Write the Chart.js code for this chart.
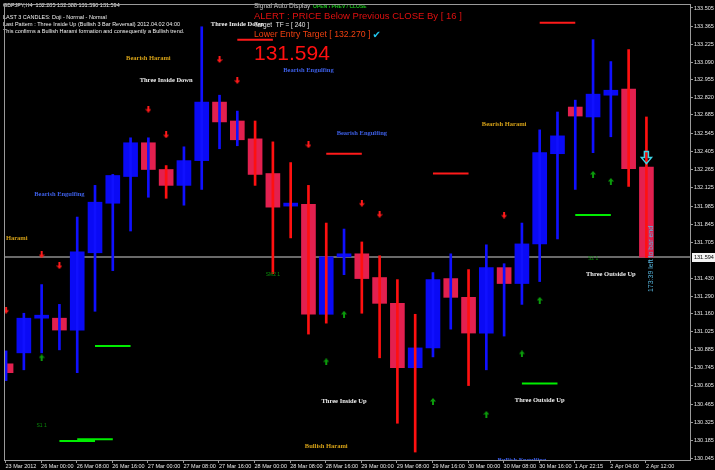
<!DOCTYPE html>
<html>
<head>
<meta charset="utf-8">
<script src="https://cdn.jsdelivr.net/npm/chart.js@4.4.1/dist/chart.umd.min.js"></script>
<style>
  html, body { margin: 0; padding: 0; background: #000; }
  canvas { display: block; }
</style>
</head>
<body>
<canvas id="chart" width="715" height="470"></canvas>
<script>
// GBPJPY H4, 23 Mar 2012 -> 2 Apr 2012 (one entry per candle)
const opens  = [130.775, 130.859, 131.125, 131.125, 131.034, 131.627, 132.007, 132.212, 132.471, 132.266,
                132.144, 132.334, 132.783, 132.638, 132.501, 132.235, 131.985, 131.999, 131.155, 131.596,
                131.619, 131.437, 131.239, 130.745, 130.897, 131.429, 131.285, 131.011, 131.513, 131.391,
                131.695, 132.387, 132.745, 132.669, 132.836, 132.882, 132.285];
const highs  = [130.874, 131.163, 131.383, 131.231, 131.901, 132.144, 132.228, 132.509, 132.509, 132.296,
                132.440, 133.361, 132.836, 132.714, 132.638, 132.478, 132.319, 132.144, 131.855, 131.809,
                131.710, 131.604, 131.421, 131.155, 131.475, 131.619, 131.498, 131.688, 131.543, 131.855,
                132.570, 132.707, 132.798, 133.262, 133.094, 133.186, 132.669];
const lows   = [130.646, 130.729, 130.859, 130.882, 130.707, 131.178, 131.490, 131.794, 132.053, 132.045,
                131.992, 132.113, 132.425, 132.448, 132.144, 131.467, 131.741, 131.003, 131.087, 131.459,
                131.163, 130.821, 130.319, 130.098, 130.828, 131.041, 130.608, 130.729, 130.988, 131.231,
                131.406, 131.733, 132.113, 132.395, 132.517, 132.136, 131.590];
const closes = [130.707, 131.125, 131.130, 131.034, 131.634, 132.015, 132.220, 132.471, 132.266, 132.144,
                132.334, 132.783, 132.631, 132.494, 132.228, 131.977, 131.992, 131.155, 131.596, 131.612,
                131.429, 131.239, 130.745, 130.897, 131.421, 131.285, 131.011, 131.513, 131.391, 131.695,
                132.395, 132.524, 132.676, 132.844, 132.874, 132.273, 131.594];

// one label every second bar
const xTickLabels = ["23 Mar 2012", "26 Mar 00:00", "26 Mar 08:00", "26 Mar 16:00", "27 Mar 00:00",
  "27 Mar 08:00", "27 Mar 16:00", "28 Mar 00:00", "28 Mar 08:00", "28 Mar 16:00", "29 Mar 00:00",
  "29 Mar 08:00", "29 Mar 16:00", "30 Mar 00:00", "30 Mar 08:00", "30 Mar 16:00", "1 Apr 22:15",
  "2 Apr 04:00", "2 Apr 12:00"];
const yTickValues = [133.505, 133.365, 133.225, 133.090, 132.955, 132.820, 132.685, 132.545, 132.405,
  132.265, 132.125, 131.985, 131.845, 131.705, 131.430, 131.290, 131.160, 131.025, 130.885, 130.745,
  130.605, 130.465, 130.325, 130.185, 130.045];

// signal arrows
const sellBars   = [0, 2, 3, 8, 9, 12, 13, 17, 20, 21, 28];
const sellPrices = [131.186, 131.612, 131.528, 132.729, 132.532, 133.110, 132.950, 132.456, 132.007, 131.923, 131.916];
const buyBars    = [2, 18, 19, 24, 27, 29, 30, 33, 34];
const buyPrices  = [130.821, 130.790, 131.155, 130.486, 130.387, 130.851, 131.262, 132.228, 132.174];

// short level lines, two bars long each
const resistBars   = [13, 18, 24, 30];
const resistLevels = [133.262, 132.387, 132.235, 133.391];
const supportBars   = [3, 4, 5, 29, 32];
const supportLevels = [130.182, 130.197, 130.912, 130.623, 131.916];

// pattern names written on the chart
const patternNames  = ["Harami", "Bearish Engulfing", "Bearish Harami", "Three Inside Down", "Three Inside Down",
  "Bearish Engulfing", "Bullish Harami", "Three Inside Up", "Bearish Engulfing", "Bearish Harami",
  "Bullish Engulfing", "Three Outside Up", "Three Outside Up"];
const patternBars   = [0.6, 3, 8, 9, 13, 17, 18, 19, 20, 28, 29, 30, 34];
const patternPrices = [131.741, 132.075, 133.117, 132.950, 133.376, 133.026, 130.144, 130.486, 132.547,
  132.615, 130.037, 130.494, 131.459];

const zoneNames  = ["S1 1", "SM2 1", "S2 1"];
const zoneBars   = [2, 15, 33];
const zonePrices = [130.304, 131.459, 131.581];

const entryArrowBar = 36;
const entryArrowPrice = 132.357;

// wick colour per candle (B = blue, R = red)
const wickTone = "BBBBBBBBBRBBBBRRRRRBRRRRBBRBBBBBBBBRR";

const BULL = "#0a0af5";
const BEAR = "#e3204f";
const WICK_B = "#1010ff";
const WICK_R = "#ff1010";
const FRAME = "#9a9a9a";
const last = closes[closes.length - 1];

function arrowImage(color, down) {
  const c = document.createElement("canvas");
  c.width = 6; c.height = 7;
  const g = c.getContext("2d");
  if (down) { g.translate(0, 7); g.scale(1, -1); }
  g.fillStyle = color;
  g.beginPath();
  g.moveTo(3, 0); g.lineTo(6, 3.5); g.lineTo(4, 3.5); g.lineTo(4, 7);
  g.lineTo(2, 7); g.lineTo(2, 3.5); g.lineTo(0, 3.5);
  g.closePath();
  g.fill();
  return c;
}

const bodyData = opens.map((o, i) => ({x: i, y: [o, closes[i]]}));
const wickData = highs.map((h, i) => ({x: i, y: [lows[i], h]}));

const levelSets = [];
resistBars.forEach((b, k) => levelSets.push({
  type: "line", data: [{x: b, y: resistLevels[k]}, {x: b + 2, y: resistLevels[k]}],
  borderColor: "#ff1a1a", borderWidth: 2, pointRadius: 0, order: 3,
}));
supportBars.forEach((b, k) => levelSets.push({
  type: "line", data: [{x: b, y: supportLevels[k]}, {x: b + 2, y: supportLevels[k]}],
  borderColor: "#00ee00", borderWidth: 2, pointRadius: 0, order: 3,
}));

const overlay = {
  id: "overlay",
  beforeDraw(chart) {
    const {ctx} = chart;
    ctx.save();
    ctx.fillStyle = "#000";
    ctx.fillRect(0, 0, chart.width, chart.height);
    ctx.restore();
  },
  afterDatasetsDraw(chart) {
    const {ctx, chartArea: a, scales: {x, y}} = chart;
    ctx.save();
    ctx.beginPath();
    ctx.rect(a.left, a.top, a.right - a.left, a.bottom - a.top);
    ctx.clip();

    // pattern names
    ctx.textAlign = "center";
    ctx.textBaseline = "middle";
    ctx.font = "bold 6.5px 'Liberation Serif'";
    patternNames.forEach((name, k) => {
      ctx.fillStyle = name.includes("Harami") ? "#d4a017"
        : name.includes("Engulfing") ? "#3d5fe6" : "#eeeeee";
      ctx.fillText(name, x.getPixelForValue(patternBars[k]), y.getPixelForValue(patternPrices[k]));
    });

    ctx.font = "5px 'Liberation Sans'";
    ctx.fillStyle = "#0a8a0a";
    zoneNames.forEach((name, k) => {
      ctx.fillText(name, x.getPixelForValue(zoneBars[k]), y.getPixelForValue(zonePrices[k]));
    });

    // hollow entry arrow over the live bar
    const ax = x.getPixelForValue(entryArrowBar);
    const ay = y.getPixelForValue(entryArrowPrice);
    ctx.strokeStyle = "#3fd6e8";
    ctx.lineWidth = 1.5;
    ctx.beginPath();
    ctx.moveTo(ax - 2, ay - 6); ctx.lineTo(ax + 2, ay - 6); ctx.lineTo(ax + 2, ay);
    ctx.lineTo(ax + 5, ay); ctx.lineTo(ax, ay + 6); ctx.lineTo(ax - 5, ay);
    ctx.lineTo(ax - 2, ay); ctx.closePath();
    ctx.stroke();

    // bar countdown, written upwards
    ctx.translate(x.getPixelForValue(entryArrowBar) + 5, y.getPixelForValue(last) - 1);
    ctx.rotate(-Math.PI / 2);
    ctx.textAlign = "left";
    ctx.font = "7px 'Liberation Sans'";
    ctx.fillStyle = "#56b4dc";
    ctx.fillText("173:39 left to bar end", -36, 0);
    ctx.restore();

    // screen labels
    ctx.save();
    ctx.textAlign = "left";
    ctx.textBaseline = "middle";
    ctx.fillStyle = "#f0f0f0";
    ctx.font = "5.5px 'Liberation Sans'";
    ctx.fillText("GBPJPY,H4  132.285 132.388 131.590 131.594", 3, 5);
    ctx.fillText("LAST 3 CANDLES: Doji - Normal - Normal", 3, 17);
    ctx.fillText("Last Pattern : Three Inside Up (Bullish 3 Bar Reversal) 2012.04.02 04:00", 3, 24);
    ctx.fillText("This confirms a Bullish Harami formation and consequently a Bullish trend.", 3, 31);

    ctx.fillStyle = "#c8c8c8";
    ctx.font = "6.5px 'Liberation Sans'";
    ctx.fillText("Signal Auto Display", 254, 6);
    ctx.fillStyle = "#1ec81e";
    ctx.font = "bold 5px 'Liberation Sans'";
    ctx.fillText("OPEN \u203a PREV / CLOSE", 313, 7);
    ctx.fillStyle = "#e01010";
    ctx.font = "9.5px 'Liberation Sans'";
    ctx.fillText("ALERT : PRICE Below Previous CLOSE By [ 16 ]", 254, 16);
    ctx.fillStyle = "#e8e8e8";
    ctx.font = "6.5px 'Liberation Sans'";
    ctx.fillText("Target  TF = [ 240 ]", 254, 25);
    ctx.fillStyle = "#f04010";
    ctx.font = "8.7px 'Liberation Sans'";
    const entryText = "Lower Entry Target [ 132.270 ]";
    ctx.fillText(entryText, 254, 35);
    const tickX = 254 + ctx.measureText(entryText).width + 2;
    ctx.fillStyle = "#20c8f0";
    ctx.font = "bold 10px 'DejaVu Sans'";
    ctx.fillText("\u2714", tickX, 35);
    ctx.fillStyle = "#ff1010";
    ctx.font = "21px 'Liberation Sans'";
    ctx.textBaseline = "alphabetic";
    ctx.fillText(last.toFixed(3), 254, 60);
    ctx.restore();
  },
  afterDraw(chart) {
    const {ctx, chartArea: a, scales: {y}} = chart;
    ctx.save();
    ctx.strokeStyle = FRAME;
    ctx.lineWidth = 1;
    ctx.strokeRect(a.left - 0.5, a.top - 0.5, a.right - a.left + 1, a.bottom - a.top + 1);
    // bid price box on the price axis
    const py = Math.round(y.getPixelForValue(last));
    ctx.fillStyle = "#f4f4f4";
    ctx.fillRect(a.right + 2, py - 4, 23, 9);
    ctx.fillStyle = "#000";
    ctx.font = "5.5px 'Liberation Sans'";
    ctx.textBaseline = "middle";
    ctx.fillText(last.toFixed(3), a.right + 4, py + 0.5);
    ctx.restore();
  },
};

new Chart(document.getElementById("chart"), {
  type: "bar",
  data: {
    datasets: [
      {
        type: "bar", data: wickData, order: 1, grouped: false, barThickness: 2,
        backgroundColor: wickData.map((_, i) => (wickTone[i] === "B" ? WICK_B : WICK_R)),
      },
      {
        type: "bar", data: bodyData, order: 2, grouped: false, barThickness: 14, minBarLength: 3,
        backgroundColor: bodyData.map((_, i) => (closes[i] >= opens[i] ? BULL : BEAR)),
      },
      ...levelSets,
      {
        type: "line", data: [{x: -1, y: last}, {x: 40, y: last}], order: 4,
        borderColor: "#8c8c8c", borderWidth: 1.5, pointRadius: 0,
      },
      {
        type: "scatter", order: 0, pointStyle: arrowImage("#ff1a1a", true),
        data: sellBars.map((b, k) => ({x: b, y: sellPrices[k]})),
      },
      {
        type: "scatter", order: 0, pointStyle: arrowImage("#0b9a0b", false),
        data: buyBars.map((b, k) => ({x: b, y: buyPrices[k]})),
      },
    ],
  },
  options: {
    responsive: false,
    animation: false,
    devicePixelRatio: 1,
    layout: {padding: {left: 1, top: 1, right: 0, bottom: 0}},
    plugins: {legend: {display: false}, tooltip: {enabled: false}},
    scales: {
      x: {
        type: "linear", min: -0.06, max: 38.45, offset: false,
        grid: {drawOnChartArea: false, tickLength: 3, color: FRAME, offset: false},
        border: {color: FRAME},
        ticks: {
          autoSkip: false, maxRotation: 0, align: "start", padding: 0, color: "#e6e6e6",
          font: {family: "Liberation Sans", size: 5.5},
          callback: (v, i) => xTickLabels[i],
        },
        afterBuildTicks: s => { s.ticks = xTickLabels.map((_, k) => ({value: 2 * k - 0.03})); },
        afterFit: s => { s.height = 10; },
      },
      y: {
        type: "linear", position: "right", min: 130.037, max: 133.528,
        grid: {drawOnChartArea: false, tickLength: 3, color: FRAME},
        border: {color: FRAME},
        ticks: {
          autoSkip: false, padding: 1, color: "#e6e6e6",
          font: {family: "Liberation Sans", size: 5.5},
          callback: v => v.toFixed(3),
        },
        afterBuildTicks: s => { s.ticks = yTickValues.map(v => ({value: v})); },
        afterFit: s => { s.width = 25; },
      },
    },
  },
  plugins: [overlay],
});
</script>
</body>
</html>
